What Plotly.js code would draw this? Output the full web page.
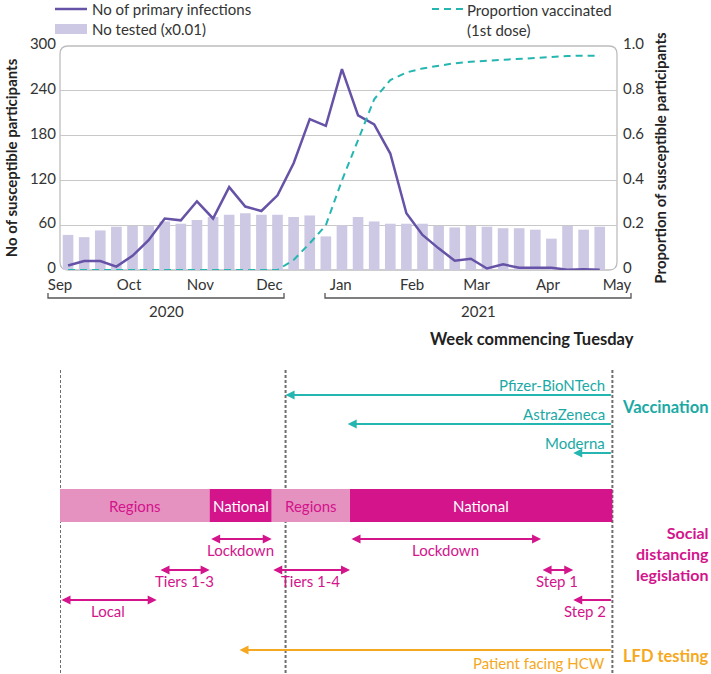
<!DOCTYPE html>
<html><head><meta charset="utf-8">
<script src="https://cdn.plot.ly/plotly-3.0.1.min.js"></script>
<style>html,body{margin:0;padding:0;background:#fff}#chart{width:711px;height:674px}</style>
</head><body><div id="chart"></div>
<script>
// ---------- data (top chart) ----------
const weekStart = ['2020-09-01','2020-09-08','2020-09-15','2020-09-22','2020-09-29',
  '2020-10-06','2020-10-13','2020-10-20','2020-10-27',
  '2020-11-03','2020-11-10','2020-11-17','2020-11-24',
  '2020-12-01','2020-12-08','2020-12-15','2020-12-22','2020-12-29',
  '2021-01-05','2021-01-12','2021-01-19','2021-01-26',
  '2021-02-02','2021-02-09','2021-02-16','2021-02-23',
  '2021-03-02','2021-03-09','2021-03-16','2021-03-23','2021-03-30',
  '2021-04-06','2021-04-13','2021-04-20'];
const testedX001 = [47,44,53,58,59,59,65,62,67,71,74,76,74,74,71,73,45,60,71,65,62,62,62,59,57,59,58,56,56,54,42,59,54,58];
const primaryInfections = [6,12,12,4.5,19,40,69,66.5,92,69,111,85,79,100,143,202,193,269,207,195,156,76,47,29,12.5,15,2,7.5,3,3,3,0.5,1,0.5];
const proportionVaccinated = [0,0,0,0,0,0,0,0,0,0,0,0,0,0,0.045,0.119,0.2,0.40,0.58,0.762,0.848,0.882,0.90,0.912,0.923,0.93,0.934,0.94,0.945,0.948,0.952,0.955,0.957,0.957];
const monthTicks = ['2020-09-01','2020-10-01','2020-11-01','2020-12-01','2021-01-01','2021-02-01','2021-03-01','2021-04-01','2021-05-01'];
const monthLabels = ['Sep','Oct','Nov','Dec','Jan','Feb','Mar','Apr','May'];
const leftTicks = [0,60,120,180,240,300];
const rightTicks = [0,0.2,0.4,0.6,0.8,1.0];
const rightTickText = ['0','0.2','0.4','0.6','0.8','1.0'];

// ---------- data (timeline) ----------
const studyStart = '2020-09-01';
const vaccinationStart = '2020-12-08';
const studyEnd = '2021-04-29';
const vaccineNames = ['Pfizer-BioNTech','AstraZeneca','Moderna'];
const vaccineStart = ['2020-12-08','2021-01-04','2021-04-12'];
const periodLabels = ['Regions','National','Regions','National'];
const periodStart = ['2020-09-01','2020-11-05','2020-12-02','2021-01-05'];
const periodEnd = ['2020-11-05','2020-12-02','2021-01-05','2021-04-29'];
const periodNational = [false,true,false,true];
const ruleNames = ['Lockdown','Lockdown','Tiers 1-3','Tiers 1-4','Step 1','Local','Step 2'];
const ruleStart = ['2020-11-05','2021-01-05','2020-10-14','2020-12-02','2021-03-29','2020-09-01','2021-04-12'];
const ruleEnd = ['2020-12-02','2021-03-29','2020-11-05','2021-01-05','2021-04-12','2020-10-13','2021-04-29'];
const ruleRow = [0,0,1,1,1,2,2];
const ruleOpenEnded = [false,false,false,false,false,false,true];
const lfdName = 'Patient facing HCW';
const lfdStart = '2020-11-18';

// ---------- layout helpers ----------
const W = 711, H = 674, PL = 60, PR = 617, PT = 46, PB = 270;
const px = v => (v - PL) / (PR - PL);
const py = v => 1 - v / H;
const FONT = 'Lato, "Open Sans", sans-serif';
const COL = {purple:'#6652a6', lav:'#cdc9e4', teal:'#25b6b1', tealText:'#1aaaa5', pink:'#d3148b',
  pinkLight:'#e592c1', orange:'#f6a821', grid:'#c8c8c8', frame:'#bdbdbd', text:'#333333', dots:'#6e6e6e'};
const WEEK = 7*24*3600*1000;

const traces = [
  {type:'bar', name:'No tested (x0.01)', x:weekStart, y:testedX001, xperiod:WEEK, xperiod0:weekStart[0],
   xperiodalignment:'middle', marker:{color:COL.lav}, yaxis:'y', hoverinfo:'skip'},
  {type:'scatter', mode:'lines', name:'No of primary infections', x:weekStart, y:primaryInfections,
   xperiod:WEEK, xperiod0:weekStart[0], xperiodalignment:'middle', line:{color:COL.purple, width:2.5}, yaxis:'y'},
  {type:'scatter', mode:'lines', name:'Proportion vaccinated (1st dose)', x:weekStart, y:proportionVaccinated,
   xperiod:WEEK, xperiod0:weekStart[0], xperiodalignment:'middle', line:{color:COL.teal, width:2, dash:'7px,5px'}, yaxis:'y2'}
];

const shapes = [];
const ann = [];
const T15 = {family:FONT, size:15, color:COL.text};

// rounded frame of the plot area (paper coords)
(function(){
  const x0=0, x1=1, y0=py(PB), y1=py(PT), rx=8/(PR-PL), ry=8/H;
  const p = `M${x0+rx},${y1} L${x1-rx},${y1} Q${x1},${y1} ${x1},${y1-ry} L${x1},${y0+ry} Q${x1},${y0} ${x1-rx},${y0} `+
            `L${x0+rx},${y0} Q${x0},${y0} ${x0},${y0+ry} L${x0},${y1-ry} Q${x0},${y1} ${x0+rx},${y1} Z`;
  shapes.push({type:'path', xref:'paper', yref:'paper', path:p, line:{color:COL.frame, width:1.3}, layer:'below'});
})();

// legend (manual)
shapes.push({type:'line', xref:'paper', yref:'paper', x0:px(55), x1:px(87), y0:py(9), y1:py(9), line:{color:COL.purple, width:2.5}});
shapes.push({type:'rect', xref:'paper', yref:'paper', x0:px(55), x1:px(87), y0:py(34), y1:py(24), fillcolor:COL.lav, line:{width:0}});
shapes.push({type:'line', xref:'paper', yref:'paper', x0:px(432), x1:px(464), y0:py(9), y1:py(9), line:{color:COL.teal, width:2, dash:'7px,5px'}});
ann.push({xref:'paper', yref:'paper', x:px(90), y:py(9), xanchor:'left', yanchor:'middle', text:traces[1].name, showarrow:false, font:T15});
ann.push({xref:'paper', yref:'paper', x:px(90), y:py(29), xanchor:'left', yanchor:'middle', text:traces[0].name, showarrow:false, font:T15});
ann.push({xref:'paper', yref:'paper', x:px(466), y:1, xanchor:'left', yanchor:'top', align:'left', borderpad:0, text:'Proportion vaccinated<br>(1st dose)', showarrow:false, font:T15});

// year brackets
function bracket(a, b, label){
  const yb = py(298), yt = py(293);
  shapes.push({type:'path', xref:'paper', yref:'paper', path:`M${px(a)},${yt} L${px(a)},${yb} L${px(b)},${yb} L${px(b)},${yt}`, line:{color:'#555', width:1.3}});
  ann.push({xref:'paper', yref:'paper', x:px((a+b)/2), y:py(311), xanchor:'center', yanchor:'middle', text:label, showarrow:false, font:T15});
}
bracket(48, 284, '2020');
bracket(325, 631, '2021');
ann.push({xref:'paper', yref:'paper', x:px(636), y:py(339), xanchor:'right', yanchor:'middle', text:'<b>Week commencing Tuesday</b>', showarrow:false, font:{family:FONT, size:16.5, color:'#222'}});

// ---------- timeline ----------
[studyStart, vaccinationStart, studyEnd].forEach(d => {
  shapes.push({type:'line', xref:'x', yref:'paper', x0:d, x1:d, y0:py(370), y1:py(674), line:{color:COL.dots, width:2, dash:'3px,2px'}});
});
periodLabels.forEach((lab, i) => {
  shapes.push({type:'rect', xref:'x', yref:'paper', x0:periodStart[i], x1:periodEnd[i], y0:py(522), y1:py(489),
    fillcolor: periodNational[i] ? COL.pink : COL.pinkLight, line:{width:0}});
  const mid = new Date((Date.parse(periodStart[i]) + Date.parse(periodEnd[i]))/2).toISOString();
  ann.push({xref:'x', yref:'paper', x:mid, y:py(505.5), xanchor:'center', yanchor:'middle', text:lab, showarrow:false,
    font:{family:FONT, size:15, color: periodNational[i] ? '#ffffff' : COL.pink}});
});

function arrow(head, tail, yPix, color, both){
  ann.push({xref:'x', yref:'paper', x:head, y:py(yPix), axref:'x', ax:tail, ayref:'pixel', ay:0, text:'', showarrow:true,
    arrowhead:2, startarrowhead:2, arrowsize:0.9, startarrowsize:0.9, arrowwidth:2, arrowcolor:color,
    arrowside: both ? 'end+start' : 'end', standoff:0, startstandoff:0});
}
const vaccRowY = [395, 424, 453];
vaccineNames.forEach((nm, i) => {
  arrow(vaccineStart[i], studyEnd, vaccRowY[i], COL.teal, false);
  ann.push({xref:'x', yref:'paper', x:studyEnd, xshift:-5, y:py(vaccRowY[i]-10), xanchor:'right', yanchor:'middle', text:nm, showarrow:false,
    font:{family:FONT, size:15, color:COL.tealText}});
});
const ruleRowY = [539, 570, 600];
ruleNames.forEach((nm, i) => {
  const y = ruleRowY[ruleRow[i]];
  if (ruleOpenEnded[i]) {
    arrow(ruleStart[i], ruleEnd[i], y, COL.pink, false);
    ann.push({xref:'x', yref:'paper', x:ruleEnd[i], xshift:-4, y:py(y+11), xanchor:'right', yanchor:'middle', text:nm, showarrow:false,
      font:{family:FONT, size:15, color:COL.pink}});
  } else {
    arrow(ruleEnd[i], ruleStart[i], y, COL.pink, true);
    const mid = new Date((Date.parse(ruleStart[i]) + Date.parse(ruleEnd[i]))/2).toISOString();
    ann.push({xref:'x', yref:'paper', x:mid, y:py(y+11), xanchor:'center', yanchor:'middle', text:nm, showarrow:false,
      font:{family:FONT, size:15, color:COL.pink}});
  }
});
arrow(lfdStart, studyEnd, 650, COL.orange, false);
ann.push({xref:'x', yref:'paper', x:studyEnd, xshift:-5, y:py(663), xanchor:'right', yanchor:'middle', text:lfdName, showarrow:false,
  font:{family:FONT, size:15, color:COL.orange}});

// group labels
const GB = 16.5;
ann.push({xref:'paper', yref:'paper', x:px(711), y:py(407), xanchor:'right', yanchor:'middle', align:'right', text:'<b>Vaccination</b>', showarrow:false, font:{family:FONT, size:GB, color:COL.tealText}});
ann.push({xref:'paper', yref:'paper', x:px(711), y:py(553), xanchor:'right', yanchor:'middle', align:'right', text:'<b>Social<br>distancing<br>legislation</b>', showarrow:false, font:{family:FONT, size:16, color:COL.pink}});
ann.push({xref:'paper', yref:'paper', x:px(711), y:py(656), xanchor:'right', yanchor:'middle', align:'right', text:'<b>LFD testing</b>', showarrow:false, font:{family:FONT, size:GB, color:COL.orange}});

const layout = {
  width:W, height:H, margin:{l:PL, r:W-PR, t:0, b:0}, paper_bgcolor:'#fff', plot_bgcolor:'rgba(0,0,0,0)',
  showlegend:false, bargap:0.34, font:{family:FONT, size:15, color:COL.text},
  xaxis:{type:'date', range:['2020-09-01','2021-05-01'], tickvals:monthTicks, ticktext:monthLabels, showgrid:false,
    zeroline:false, showline:false, ticks:'', ticklabelstandoff:4, tickfont:T15},
  yaxis:{domain:[py(PB), py(PT)], range:[0,300], tickvals:leftTicks, showgrid:true, gridcolor:COL.grid, gridwidth:1.3,
    zeroline:false, showline:false, ticks:'', ticklabelstandoff:3, ticklabelshift:-2, tickfont:T15,
    title:{text:'<b>No of susceptible participants</b>', font:{family:FONT, size:15, color:'#222'}, standoff:8}},
  yaxis2:{overlaying:'y', side:'right', range:[0,1], tickvals:rightTicks, ticktext:rightTickText, showgrid:false,
    zeroline:false, showline:false, ticks:'', ticklabelstandoff:5, ticklabelshift:-2, tickfont:T15,
    title:{text:'<b>Proportion of susceptible participants</b>', font:{family:FONT, size:15, color:'#222'}, standoff:12}},
  shapes:shapes, annotations:ann
};
Plotly.newPlot('chart', traces, layout, {displayModeBar:false, staticPlot:true});
</script></body></html>
